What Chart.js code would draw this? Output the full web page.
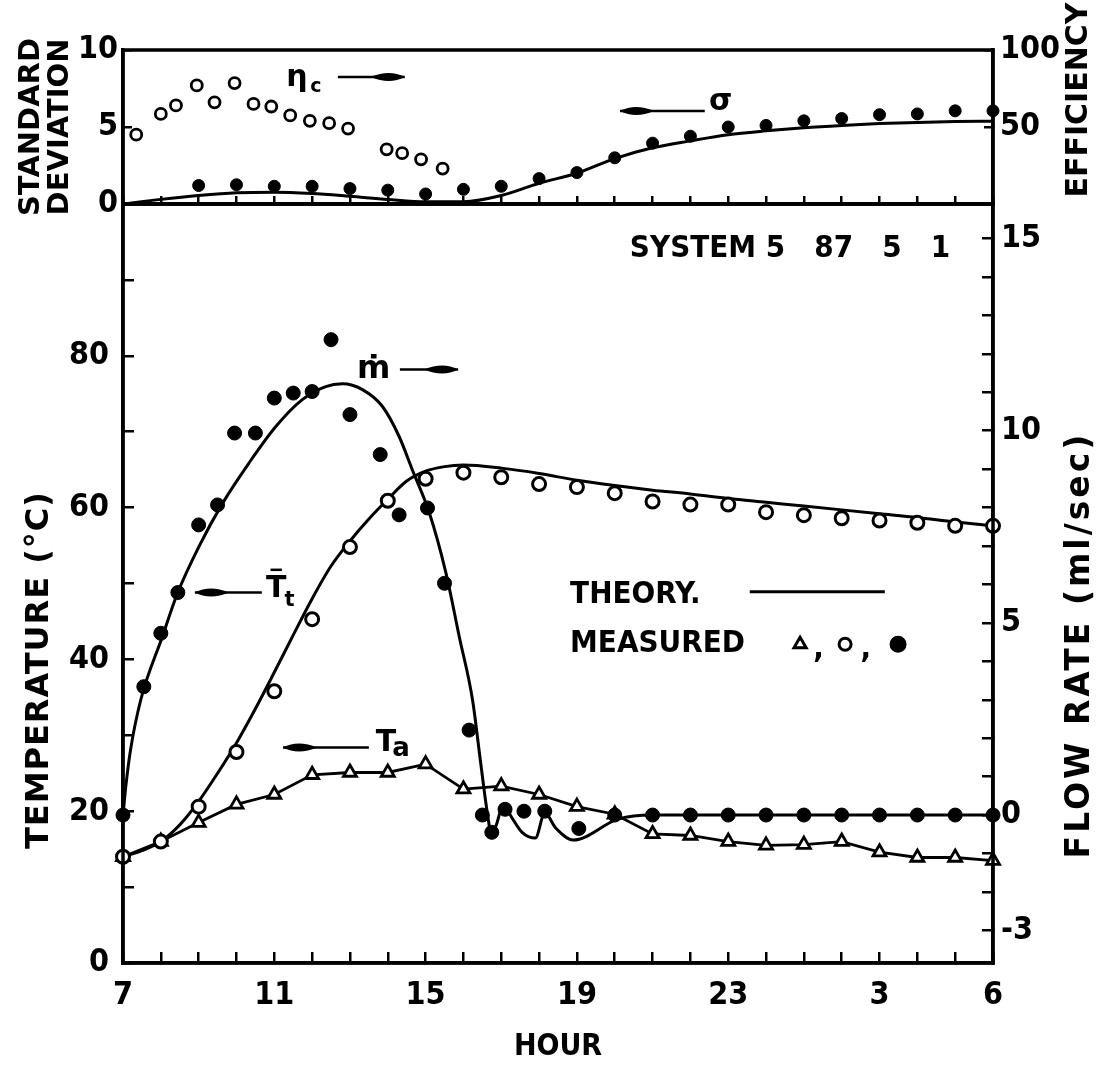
<!DOCTYPE html>
<html><head><meta charset="utf-8">
<script src="https://cdn.jsdelivr.net/npm/chart.js@4.4.1/dist/chart.umd.min.js"></script>
<style>
html,body{margin:0;padding:0;background:#fff;}
#wrap{position:relative;width:1101px;height:1072px;background:#fff;}
canvas{position:absolute;left:0;top:0;}
</style></head><body>
<div id="wrap">
<canvas id="cBottom" width="1101" height="1072"></canvas>
<canvas id="cTop" width="1101" height="262"></canvas>
</div>
<script>
// ---------------- DATA ----------------
// x axis (hour of day, 7 h to 6 h next morning = 30)
const hourTicks = [7,8,9,10,11,12,13,14,15,16,17,18,19,20,21,22,23,24,25,26,27,28,29,30];
const hourLabelValues = [7,11,15,19,23,27,30];
const hourLabelTexts = ['7','11','15','19','23','3','6'];

// top panel: standard deviation (left) and efficiency (right)
const sdTicks = [0,5,10];
const effTicks = [0,50,100];
const effLabels = ['','50','100'];
const sigmaHours = [9,10,11,12,13,14,15,16,17,18,19,20,21,22,23,24,25,26,27,28,29,30];
const sigmaMeasured = [1.2,1.25,1.15,1.15,1.0,0.9,0.65,0.95,1.15,1.65,2.04,3.0,3.95,4.4,5.0,5.1,5.4,5.55,5.8,5.85,6.05,6.05];
const sigmaTheoryHours = [7,8,9,10,11,12,13,14,15,16,17,18,19,20,21,22,23,24,25,26,27,28,29,30];
const sigmaTheory = [0,0.3,0.55,0.73,0.77,0.68,0.5,0.3,0.15,0.15,0.55,1.35,2.0,2.95,3.65,4.1,4.5,4.75,4.95,5.1,5.22,5.3,5.35,5.38];
const etaHours = [7.35,8.0,8.4,8.95,9.42,9.95,10.45,10.92,11.42,11.94,12.45,12.95,13.97,14.38,14.88,15.45];
const etaMeasured = [45,58.5,64,77,66,78.5,65,63.3,57.5,54,52.5,49,35.5,33,29,23];

// bottom panel: temperature (left) and flow rate (right)
const tempTicks = [0,10,20,30,40,50,60,70,80,90,100];
const tempLabelValues = [0,20,40,60,80];
const flowTicks = [-3,-2,-1,0,1,2,3,4,5,6,7,8,9,10,11,12,13,14,15];
const flowLabelValues = [-3,0,5,10,15];

const ttTheoryHours = [7,7.5,8,8.5,9,9.5,10,10.5,11,11.5,12,12.5,13,13.5,14,14.5,15,15.5,16,17,18,19,20,21,22,23,24,25,26,27,28,29,30];
const ttTheory = [14,14.8,16,18.2,21.3,25,29,33.5,38.3,43.2,48,52.3,55.6,58.5,61.1,63.5,64.8,65.4,65.6,65.2,64.5,63.6,62.9,62.3,61.8,61.2,60.7,60.2,59.7,59.2,58.7,58.1,57.6];
const ttHours = [7,8,9,10,11,12,13,14,15,16,17,18,19,20,21,22,23,24,25,26,27,28,29,30];
const ttMeasured = [14,16,20.6,27.8,35.8,45.3,54.8,60.9,63.8,64.6,64.0,63.1,62.7,61.9,60.8,60.4,60.4,59.4,59.0,58.6,58.3,58.0,57.6,57.6];

const taHours = [7,8,9,10,11,12,13,14,15,16,17,18,19,20,21,22,23,24,25,26,27,28,29,30];
const taMeasured = [14,16,18.5,20.9,22.2,24.8,25.1,25.1,26.2,22.9,23.3,22.2,20.6,19.6,17.0,16.8,16.0,15.5,15.6,16.0,14.6,13.9,13.9,13.5];

const mHours = [7,7.55,8.0,8.45,9.0,9.5,9.95,10.5,11.0,11.5,12.0,12.5,13.0,13.8,14.3,15.05,15.5,16.15,16.5,16.75,17.1,17.6,18.15,19.05,20,21,22,23,24,25,26,27,28,29,30];
const mMeasured = [0,3.34,4.73,5.79,7.55,8.07,9.94,9.94,10.85,10.98,11.02,12.37,10.42,9.38,7.81,7.99,6.03,2.21,0.0,-0.45,0.15,0.1,0.1,-0.35,0,0,0,0,0,0,0,0,0,0,0];
const mTheoryHours = [7,7.08,7.2,7.47,8.04,8.44,9.01,9.63,10.33,11.04,11.74,12.36,12.8,13.33,13.86,14.3,14.65,15.1,15.54,15.89,16.24,16.45,16.64,16.72,16.85,17.05,17.3,17.55,17.9,18.15,18.45,18.9,20.1,21,30];
const mTheory = [0,0.8,1.7,3.0,4.64,5.77,6.99,8.11,9.16,10.11,10.81,11.15,11.22,11.07,10.63,9.85,8.98,7.86,6.29,4.64,3.0,1.4,0.0,-0.4,-0.3,0.25,-0.1,-0.45,-0.6,0.05,-0.35,-0.65,-0.1,0,0];

// ---------------- STYLE ----------------
const F_NARROW = "'Liberation Sans Narrow', 'DejaVu Sans Condensed', 'Arial Narrow', sans-serif";
const F_WIDE = "'DejaVu Sans', 'Liberation Sans', sans-serif";
const F_COND = "'DejaVu Sans Condensed', 'DejaVu Sans', sans-serif";
const INK = '#000';
Chart.defaults.color = INK;
Chart.defaults.animation = false;

const pts = (xs, ys) => xs.map((h, i) => ({x: h, y: ys[i]}));
const hourLabel = v => { const i = hourLabelValues.indexOf(v); return i >= 0 ? hourLabelTexts[i] : ''; };
const tickFont = {family: F_NARROW, size: 32, weight: 'bold'};

function drawArrow(ctx, xTail, xHead, y) {
  const dir = Math.sign(xHead - xTail);
  ctx.lineWidth = 2.5;
  ctx.beginPath(); ctx.moveTo(xTail, y); ctx.lineTo(xHead, y); ctx.stroke();
  const L = 34, W = 8;
  ctx.beginPath();
  ctx.moveTo(xHead, y);
  ctx.quadraticCurveTo(xHead - dir * L * 0.45, y - W, xHead - dir * L, y);
  ctx.quadraticCurveTo(xHead - dir * L * 0.45, y + W, xHead, y);
  ctx.fill();
}
function rotText(ctx, text, x, y, font, spacing) {
  ctx.save(); ctx.translate(x, y); ctx.rotate(-Math.PI / 2);
  ctx.font = font; ctx.textAlign = 'center'; ctx.textBaseline = 'middle';
  if (spacing) ctx.letterSpacing = spacing;
  ctx.fillText(text, 0, 0); ctx.restore();
}
const frame = {
  id: 'frame',
  afterDraw(chart) {
    const a = chart.chartArea, ctx = chart.ctx;
    ctx.save(); ctx.strokeStyle = INK; ctx.lineWidth = 3.5;
    ctx.strokeRect(a.left, a.top, a.right - a.left, a.bottom - a.top);
    ctx.restore();
  }
};

// ---------------- BOTTOM PANEL ----------------
const bottomNotes = {
  id: 'bottomNotes',
  afterDraw(chart) {
    const {ctx, scales: {x, yT}} = chart;
    const X = h => x.getPixelForValue(h), Y = t => yT.getPixelForValue(t);
    ctx.save(); ctx.fillStyle = INK; ctx.strokeStyle = INK;
    rotText(ctx, 'TEMPERATURE (°C)', 40, 670, `bold 32px ${F_WIDE}`, '1px');
    rotText(ctx, 'FLOW RATE (ml/sec)', 1080, 645, `bold 33px ${F_WIDE}`, '3px');
    ctx.textBaseline = 'middle'; ctx.textAlign = 'left';
    ctx.font = `bold 31px ${F_COND}`;
    ctx.fillText('SYSTEM 5   87   5   1', X(20.4), Y(94.1));
    ctx.fillText('THEORY.', X(18.82), Y(48.5));
    ctx.fillText('MEASURED', X(18.82), Y(42.0));
    ctx.fillText(',', X(25.25), Y(41.3));
    ctx.fillText(',', X(26.5), Y(41.3));
    ctx.lineWidth = 3;
    ctx.beginPath(); ctx.moveTo(X(23.57), Y(48.9)); ctx.lineTo(X(27.14), Y(48.9)); ctx.stroke();
    ctx.fillStyle = '#fff';
    Chart.helpers.drawPoint(ctx, {pointStyle: 'triangle', radius: 7, borderWidth: 3, rotation: 0}, X(24.9), Y(42.0));
    Chart.helpers.drawPoint(ctx, {pointStyle: 'circle', radius: 6, borderWidth: 3, rotation: 0}, X(26.09), Y(42.0));
    ctx.fillStyle = INK;
    Chart.helpers.drawPoint(ctx, {pointStyle: 'circle', radius: 7, borderWidth: 1, rotation: 0}, X(27.49), Y(42.0));
    // m-dot label
    ctx.font = `bold 32px ${F_WIDE}`; ctx.textAlign = 'center';
    ctx.fillText('ṁ', X(13.63), Y(78.2));
    drawArrow(ctx, X(14.32), X(15.86), Y(78.2));
    // T-bar-t label
    ctx.font = `bold 30px ${F_WIDE}`;
    ctx.fillText('T', X(11.05), Y(49.3));
    ctx.lineWidth = 2.5;
    ctx.beginPath(); ctx.moveTo(X(10.9), Y(49.3) - 19); ctx.lineTo(X(11.2), Y(49.3) - 19); ctx.stroke();
    ctx.font = `bold 21px ${F_WIDE}`;
    ctx.fillText('t', X(11.4), Y(47.7));
    drawArrow(ctx, X(10.67), X(8.9), Y(48.8));
    // Ta label
    ctx.font = `bold 30px ${F_WIDE}`;
    ctx.fillText('T', X(13.95), Y(28.9));
    ctx.font = `bold 26px ${F_WIDE}`;
    ctx.fillText('a', X(14.35), Y(28.2));
    drawArrow(ctx, X(13.5), X(11.23), Y(28.4));
    ctx.restore();
  }
};

new Chart(document.getElementById('cBottom'), {
  type: 'scatter',
  data: {
    datasets: [
      {label: 'ṁ measured', yAxisID: 'yF', data: pts(mHours, mMeasured), pointStyle: 'circle', pointRadius: 7,
       backgroundColor: INK, borderColor: INK, borderWidth: 1, clip: 12},
      {label: 'T̄t measured', yAxisID: 'yT', data: pts(ttHours, ttMeasured), pointStyle: 'circle', pointRadius: 6.5,
       backgroundColor: '#fff', borderColor: INK, borderWidth: 3, clip: 12},
      {label: 'Ta', yAxisID: 'yT', data: pts(taHours, taMeasured), showLine: true, tension: 0,
       pointStyle: 'triangle', pointRadius: 7.5, backgroundColor: '#fff', borderColor: INK, borderWidth: 2.8, clip: 12},
      {label: 'ṁ theory', yAxisID: 'yF', data: pts(mTheoryHours, mTheory), showLine: true, pointRadius: 0,
       cubicInterpolationMode: 'monotone', borderColor: INK, borderWidth: 3},
      {label: 'T̄t theory', yAxisID: 'yT', data: pts(ttTheoryHours, ttTheory), showLine: true, pointRadius: 0,
       cubicInterpolationMode: 'monotone', borderColor: INK, borderWidth: 3}
    ]
  },
  options: {
    responsive: false, animation: false,
    layout: {padding: {top: 204, left: 0, right: 0, bottom: 0}},
    plugins: {legend: {display: false}, tooltip: {enabled: false}},
    scales: {
      x: {type: 'linear', position: 'bottom', min: 7, max: 30,
        afterBuildTicks: s => { s.ticks = hourTicks.map(v => ({value: v})); },
        afterFit: s => { s.height = 109; },
        ticks: {autoSkip: false, maxRotation: 0, padding: 24, font: tickFont, color: INK, callback: v => hourLabel(v)},
        grid: {drawOnChartArea: false, tickLength: -11, color: INK, lineWidth: 2.5},
        border: {display: true, color: INK, width: 3.5},
        title: {display: true, text: 'HOUR', font: {family: F_NARROW, size: 30, weight: 'bold'}, color: INK, padding: {top: 0, bottom: 7}}
      },
      yT: {type: 'linear', position: 'left', min: 0, max: 100,
        afterBuildTicks: s => { s.ticks = tempTicks.map(v => ({value: v})); },
        afterFit: s => { s.width = 123; },
        ticks: {autoSkip: false, padding: 25, font: tickFont, color: INK,
          callback: v => tempLabelValues.includes(v) ? String(v) : ''},
        grid: {drawOnChartArea: false, tickLength: -11, color: INK, lineWidth: 2.5},
        border: {display: true, color: INK, width: 3.5}
      },
      yF: {type: 'linear', position: 'right', min: -3.85, max: 15.9,
        afterBuildTicks: s => { s.ticks = flowTicks.map(v => ({value: v})); },
        afterFit: s => { s.width = 108; },
        ticks: {autoSkip: false, padding: 19, font: tickFont, color: INK,
          callback: v => flowLabelValues.includes(v) ? String(v) : ''},
        grid: {drawOnChartArea: false, tickLength: -11, color: INK, lineWidth: 2.5},
        border: {display: true, color: INK, width: 3.5}
      }
    }
  },
  plugins: [frame, bottomNotes]
});

// ---------------- TOP PANEL ----------------
const topNotes = {
  id: 'topNotes',
  afterDraw(chart) {
    const {ctx, scales: {x, ySD}} = chart;
    const X = h => x.getPixelForValue(h), Y = s => ySD.getPixelForValue(s);
    ctx.save(); ctx.fillStyle = INK; ctx.strokeStyle = INK;
    rotText(ctx, 'EFFICIENCY', 1079, 100, `bold 30px ${F_WIDE}`);
    ctx.textAlign = 'center'; ctx.textBaseline = 'middle';
    ctx.font = `bold 30px ${F_WIDE}`;
    ctx.fillText('η', X(11.6), Y(8.2));
    ctx.font = `bold 19px ${F_WIDE}`;
    ctx.fillText('c', X(12.1), Y(7.6));
    drawArrow(ctx, X(12.68), X(14.45), Y(8.25));
    ctx.font = `bold 30px ${F_WIDE}`;
    ctx.fillText('σ', X(22.8), Y(6.6));
    drawArrow(ctx, X(22.38), X(20.14), Y(6.04));
    ctx.restore();
  }
};

new Chart(document.getElementById('cTop'), {
  type: 'scatter',
  data: {
    datasets: [
      {label: 'σ measured', yAxisID: 'ySD', data: pts(sigmaHours, sigmaMeasured), pointStyle: 'circle', pointRadius: 6,
       backgroundColor: INK, borderColor: INK, borderWidth: 1, clip: 12},
      {label: 'ηc measured', yAxisID: 'yEff', data: pts(etaHours, etaMeasured), pointStyle: 'circle', pointRadius: 5.5,
       backgroundColor: '#fff', borderColor: INK, borderWidth: 2.8, clip: 12},
      {label: 'σ theory', yAxisID: 'ySD', data: pts(sigmaTheoryHours, sigmaTheory), showLine: true, pointRadius: 0,
       cubicInterpolationMode: 'monotone', borderColor: INK, borderWidth: 3}
    ]
  },
  options: {
    responsive: false, animation: false,
    layout: {padding: {top: 50, left: 0, right: 0, bottom: 0}},
    plugins: {legend: {display: false}, tooltip: {enabled: false}},
    scales: {
      x: {type: 'linear', position: 'bottom', min: 7, max: 30,
        afterBuildTicks: s => { s.ticks = hourTicks.map(v => ({value: v})); },
        afterFit: s => { s.height = 58; },
        ticks: {display: false, autoSkip: false},
        grid: {drawOnChartArea: false, tickLength: -8, color: INK, lineWidth: 2.5},
        border: {display: true, color: INK, width: 3.5}
      },
      ySD: {type: 'linear', position: 'left', min: 0, max: 10,
        afterBuildTicks: s => { s.ticks = sdTicks.map(v => ({value: v})); },
        afterFit: s => { s.width = 123; },
        ticks: {autoSkip: false, padding: 14, font: tickFont, color: INK},
        grid: {drawOnChartArea: false, tickLength: -9, color: INK, lineWidth: 2.5},
        border: {display: true, color: INK, width: 3.5},
        title: {display: true, text: ['STANDARD', 'DEVIATION'], font: {family: F_WIDE, size: 29, weight: 'bold', lineHeight: 1.0}, color: INK, padding: {top: 17, bottom: 0}}
      },
      yEff: {type: 'linear', position: 'right', min: 0, max: 100,
        afterBuildTicks: s => { s.ticks = effTicks.map(v => ({value: v})); },
        afterFit: s => { s.width = 108; },
        ticks: {autoSkip: false, padding: 16, font: tickFont, color: INK,
          callback: v => effLabels[effTicks.indexOf(v)]},
        grid: {drawOnChartArea: false, tickLength: -9, color: INK, lineWidth: 2.5},
        border: {display: true, color: INK, width: 3.5}
      }
    }
  },
  plugins: [frame, topNotes]
});
</script>
</body></html>
